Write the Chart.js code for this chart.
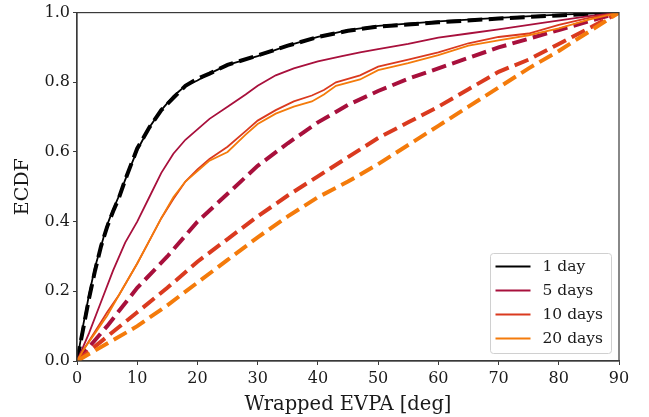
<!DOCTYPE html>
<html>
<head>
<meta charset="utf-8">
<script src="https://cdn.jsdelivr.net/npm/chart.js@4/dist/chart.umd.min.js"></script>
<style>
  html, body { margin: 0; padding: 0; background: #fff; }
  #wrap { width: 649px; height: 417px; }
</style>
</head>
<body>
<div id="wrap"><canvas id="ecdf" width="649" height="417"></canvas></div>
<script>
// Series labels and colours
const labels = ['1 day', '5 days', '10 days', '20 days'];
const colors = ['#000000', '#a8103c', '#da3a1f', '#f47b0b'];

// 1 day: empirical (solid) and model (dashed) read on the same x grid
const day1X     = [0, 1, 2, 3, 4, 5, 6, 7, 8, 10, 12, 14, 16, 18, 20, 22, 25, 30, 35, 40, 45, 50, 60, 70, 80, 90];
const day1Emp   = [0, 0.10, 0.19, 0.27, 0.33, 0.39, 0.435, 0.475, 0.52, 0.605, 0.67, 0.72, 0.76, 0.79, 0.805, 0.825, 0.85, 0.875, 0.905, 0.93, 0.95, 0.962, 0.975, 0.985, 0.994, 1];
const day1Model = [0, 0.09, 0.18, 0.26, 0.33, 0.385, 0.43, 0.47, 0.52, 0.61, 0.67, 0.72, 0.755, 0.79, 0.81, 0.825, 0.85, 0.877, 0.905, 0.93, 0.948, 0.96, 0.972, 0.983, 0.992, 1];

// 5 days empirical
const day5X   = [0, 2, 4, 6, 8, 10, 12, 14, 16, 18, 20, 22, 25, 28, 30, 33, 36, 40, 44, 47, 50, 55, 60, 65, 70, 77, 85, 90];
const day5Emp = [0, 0.08, 0.17, 0.26, 0.34, 0.40, 0.47, 0.54, 0.595, 0.635, 0.665, 0.695, 0.73, 0.765, 0.79, 0.82, 0.84, 0.86, 0.875, 0.886, 0.895, 0.91, 0.928, 0.94, 0.952, 0.97, 0.99, 1];

// 10 and 20 days empirical
const longX    = [0, 1, 3, 5, 7, 10, 12, 14, 16, 18, 20, 22, 25, 28, 30, 33, 36, 39, 41, 43, 47, 50, 55, 60, 65, 70, 75, 80, 85, 90];
const day10Emp = [0, 0.03, 0.085, 0.14, 0.19, 0.28, 0.345, 0.41, 0.465, 0.515, 0.55, 0.58, 0.615, 0.66, 0.69, 0.72, 0.745, 0.762, 0.778, 0.80, 0.82, 0.845, 0.865, 0.886, 0.912, 0.93, 0.94, 0.965, 0.985, 1];
const day20Emp = [0, 0.03, 0.08, 0.13, 0.19, 0.28, 0.345, 0.41, 0.47, 0.515, 0.545, 0.575, 0.60, 0.65, 0.68, 0.71, 0.73, 0.745, 0.765, 0.79, 0.808, 0.835, 0.855, 0.878, 0.905, 0.92, 0.935, 0.955, 0.98, 1];

// Model curves for 5, 10, 20 days
const modelX     = [0, 5, 10, 15, 20, 25, 30, 35, 40, 45, 50, 55, 60, 65, 70, 75, 80, 85, 90];
const day5Model  = [0, 0.10, 0.21, 0.30, 0.40, 0.48, 0.56, 0.625, 0.685, 0.735, 0.775, 0.81, 0.84, 0.87, 0.90, 0.925, 0.95, 0.975, 1];
const day10Model = [0, 0.07, 0.14, 0.21, 0.285, 0.35, 0.415, 0.475, 0.53, 0.585, 0.64, 0.685, 0.73, 0.78, 0.83, 0.865, 0.91, 0.955, 1];
const day20Model = [0, 0.05, 0.10, 0.16, 0.225, 0.29, 0.355, 0.415, 0.47, 0.515, 0.565, 0.62, 0.675, 0.73, 0.785, 0.84, 0.89, 0.945, 1];

// Axis ticks
const xTicks = [0, 10, 20, 30, 40, 50, 60, 70, 80, 90];
const yTicks = [0, 0.2, 0.4, 0.6, 0.8, 1.0];

const FONT = "'DejaVu Serif', serif";
const pts = (xs, ys) => xs.map((x, i) => ({ x: x, y: ys[i] }));

const empSeries   = [[day1X, day1Emp], [day5X, day5Emp], [longX, day10Emp], [longX, day20Emp]];
const modelSeries = [[day1X, day1Model], [modelX, day5Model], [modelX, day10Model], [modelX, day20Model]];

// later windows sit on top (lower order = drawn later)
const datasets = [];
labels.forEach((lab, i) => {
    datasets.push({
        label: lab,
        data: pts(empSeries[i][0], empSeries[i][1]),
        borderColor: colors[i],
        borderWidth: 1.8,
        pointRadius: 0,
        tension: 0,
        order: 100 - i * 2
    });
    datasets.push({
        label: lab + ' model',
        data: pts(modelSeries[i][0], modelSeries[i][1]),
        borderColor: colors[i],
        borderWidth: 4,
        borderDash: [14.8, 6.4],
        pointRadius: 0,
        tension: 0,
        order: 99 - i * 2
    });
});

// frame around the axes + legend box in the lower right
const framePlugin = {
    id: 'frame',
    afterDatasetsDraw(chart) {
        const { ctx, chartArea: a } = chart;
        ctx.save();
        ctx.strokeStyle = '#3a3a3a';
        ctx.lineWidth = 1.2;
        ctx.strokeRect(a.left, a.top, a.right - a.left, a.bottom - a.top);

        // legend
        const bx = 490.5, by = 253.5, bw = 121, bh = 100;
        ctx.fillStyle = 'rgba(255,255,255,0.85)';
        ctx.strokeStyle = '#d0d0d0';
        ctx.lineWidth = 1;
        ctx.beginPath();
        ctx.roundRect(bx, by, bw, bh, 3);
        ctx.fill();
        ctx.stroke();
        ctx.font = '15.5px ' + FONT;
        ctx.textBaseline = 'middle';
        labels.forEach((lab, i) => {
            const y = by + 13 + i * 24;
            ctx.strokeStyle = colors[i];
            ctx.lineWidth = 2;
            ctx.beginPath();
            ctx.moveTo(bx + 5, y);
            ctx.lineTo(bx + 40, y);
            ctx.stroke();
            ctx.fillStyle = '#1a1a1a';
            ctx.fillText(lab, bx + 52, y);
        });
        ctx.restore();
    }
};

new Chart(document.getElementById('ecdf'), {
    type: 'line',
    data: { datasets: datasets },
    options: {
        responsive: false,
        animation: false,
        layout: { padding: { top: 10, right: 30, left: 0, bottom: 0 } },
        plugins: { legend: { display: false }, tooltip: { enabled: false } },
        scales: {
            x: {
                type: 'linear',
                min: 0, max: 90,
                afterFit: s => { s.height = 56; },
                afterBuildTicks: s => { s.ticks = xTicks.map(v => ({ value: v })); },
                ticks: { color: '#1a1a1a', padding: 4, font: { family: FONT, size: 16 } },
                grid: { drawOnChartArea: false, drawTicks: true, tickLength: 4, color: '#3a3a3a' },
                border: { display: true, color: '#3a3a3a', width: 1.2 },
                title: { display: true, text: 'Wrapped EVPA [deg]', color: '#1a1a1a', padding: { top: 0, bottom: 0 }, font: { family: FONT, size: 19.5 } }
            },
            y: {
                type: 'linear',
                min: 0, max: 1,
                afterFit: s => { s.width = 77; },
                afterBuildTicks: s => { s.ticks = yTicks.map(v => ({ value: v })); },
                ticks: { color: '#1a1a1a', padding: 3, font: { family: FONT, size: 16 }, callback: v => v.toFixed(1) },
                grid: { drawOnChartArea: false, drawTicks: true, tickLength: 4, color: '#3a3a3a' },
                border: { display: true, color: '#3a3a3a', width: 1.2 },
                title: { display: true, text: 'ECDF', color: '#1a1a1a', padding: { top: 12, bottom: 0 }, font: { family: FONT, size: 19 } }
            }
        }
    },
    plugins: [framePlugin]
});
</script>
</body>
</html>
